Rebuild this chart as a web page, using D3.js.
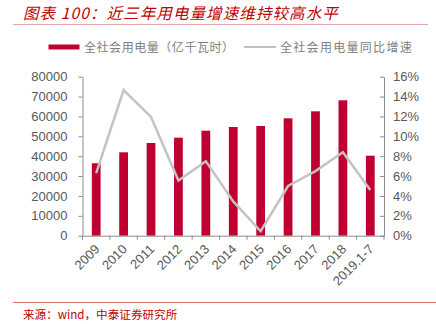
<!DOCTYPE html>
<html><head><meta charset="utf-8">
<script src="https://cdn.jsdelivr.net/npm/d3@7"></script>
<style>
html,body{margin:0;padding:0;background:#fff;}
svg{display:block;}
</style></head>
<body>
<script>
const categories = ["2009","2010","2011","2012","2013","2014","2015","2016","2017","2018","2019.1-7"];
const consumption = [36430,41960,46640,49310,52830,54690,55190,59060,62590,68120,40250];
const growth = [6.3,14.65,11.95,5.55,7.5,3.45,0.45,5.0,6.5,8.4,4.6];
const leftTicks = [0,10000,20000,30000,40000,50000,60000,70000,80000];
const rightTicks = [0,2,4,6,8,10,12,14,16];
const titleText = "图表 100：近三年用电量增速维持较高水平";
const sourceText = "来源：wind，中泰证券研究所";
const legendBar = "全社会用电量（亿千瓦时）";
const legendLine = "全社会用电量同比增速";

const W=436,H=324;
const L=82.5,R=384,T=76.7,B=235.7;
const svg=d3.select("body").append("svg").attr("width",W).attr("height",H);
const cjk='"Noto Sans CJK SC","Noto Sans",sans-serif';
const num='"Liberation Sans",Arial,sans-serif';

// title
svg.append("text").attr("x",23).attr("y",18.5).text(titleText)
  .attr("fill","#c00000").attr("font-family",cjk).attr("font-size",15.5)
  .attr("font-style","italic").attr("letter-spacing",1.1);
svg.append("line").attr("x1",13).attr("x2",428).attr("y1",24.5).attr("y2",24.5)
  .attr("stroke","#e9a3a3").attr("stroke-width",1);

// legend
svg.append("rect").attr("x",48.5).attr("y",44.5).attr("width",31).attr("height",5).attr("fill","#c00030");
svg.append("text").attr("x",84).attr("y",51.5).text(legendBar).attr("fill","#808080")
  .attr("font-family",cjk).attr("font-size",12).attr("letter-spacing",0.55);
svg.append("line").attr("x1",244).attr("x2",276).attr("y1",47).attr("y2",47).attr("stroke","#c0c0c0").attr("stroke-width",2);
svg.append("text").attr("x",280).attr("y",51.5).text(legendLine).attr("fill","#808080")
  .attr("font-family",cjk).attr("font-size",12).attr("letter-spacing",1.3);

const x=d3.scaleBand().domain(categories).range([L,R]).paddingInner(0).paddingOuter(0);
const yL=d3.scaleLinear().domain([0,80000]).range([B,T]);
const yR=d3.scaleLinear().domain([0,16]).range([B,T]);

// bars
const bw=x.bandwidth()*0.32;
svg.append("g").selectAll("rect").data(categories).join("rect")
  .attr("x",d=>x(d)+x.bandwidth()/2-bw/2).attr("width",bw)
  .attr("y",(d,i)=>yL(consumption[i])).attr("height",(d,i)=>B-yL(consumption[i]))
  .attr("fill","#c00030");

// line
const line=d3.line().x((d,i)=>x(categories[i])+x.bandwidth()/2).y(d=>yR(d));
svg.append("path").datum(growth).attr("d",line).attr("fill","none")
  .attr("stroke","#c3c3c3").attr("stroke-width",2.5).attr("stroke-linejoin","miter");

// axes
const axisColor="#8c8c8c", labelColor="#595959";
const gl=svg.append("g").attr("transform",`translate(${L},0)`)
  .call(d3.axisLeft(yL).tickValues(leftTicks).tickFormat(d3.format("d")).tickSize(4).tickPadding(11).tickSizeOuter(0));
const gr=svg.append("g").attr("transform",`translate(${R},0)`)
  .call(d3.axisRight(yR).tickValues(rightTicks).tickFormat(d=>d+"%").tickSize(-4).tickPadding(9).tickSizeOuter(0));
const gb=svg.append("g").attr("transform",`translate(0,${B})`)
  .call(d3.axisBottom(x).tickSize(0).tickSizeOuter(0));
// band boundary ticks
const bounds=categories.map(c=>x(c)).concat([R]);
gb.selectAll("line.bt").data(bounds).join("line").attr("class","bt")
  .attr("x1",d=>d).attr("x2",d=>d).attr("y1",0).attr("y2",4).attr("stroke",axisColor);

[gl,gr,gb].forEach(g=>{
  g.selectAll(".domain").attr("stroke",axisColor);
  g.selectAll(".tick line").attr("stroke",axisColor);
  g.selectAll("text").attr("fill",labelColor).attr("font-family",num).attr("font-size",13);
});
gb.selectAll(".tick text").attr("text-anchor","end")
  .attr("transform","translate(1,11) rotate(-45)").attr("dy","0.35em").attr("y",0);

// footer
svg.append("line").attr("x1",13).attr("x2",436).attr("y1",302.5).attr("y2",302.5)
  .attr("stroke","#e07070").attr("stroke-width",1);
svg.append("text").attr("x",23).attr("y",319).text(sourceText).attr("fill","#c00000")
  .attr("font-family",'"Noto Sans CJK SC","DejaVu Sans Mono",monospace').attr("font-size",11.6);
</script>
</body></html>
